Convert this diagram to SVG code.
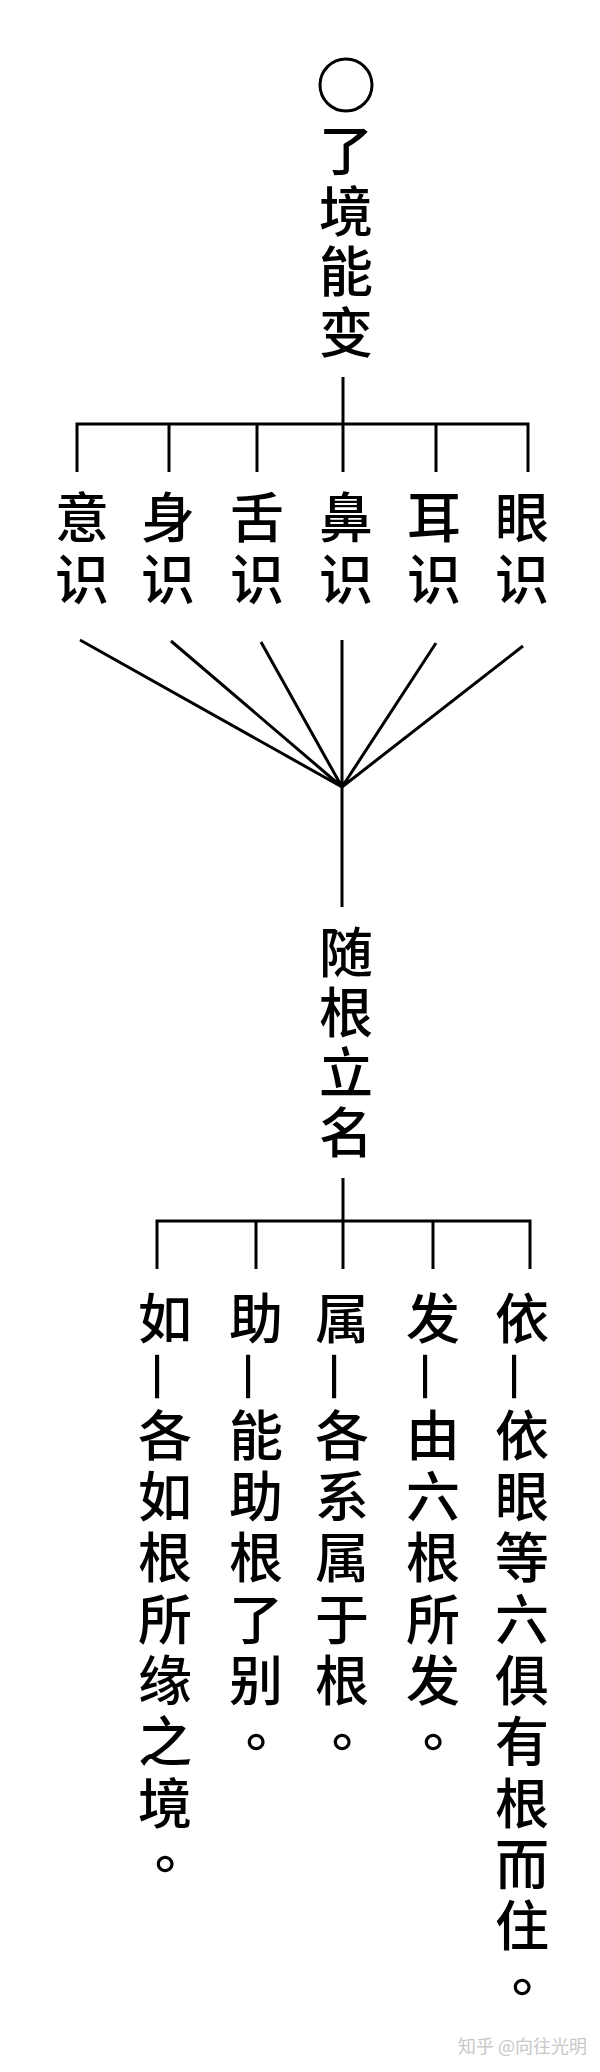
<svg xmlns="http://www.w3.org/2000/svg" width="600" height="2072" viewBox="0 0 600 2072">
<style>
.v { font-family: "Noto Sans CJK SC", "Noto Sans CJK TC", sans-serif; font-size: 54px; font-weight: 500; fill: #000; writing-mode: vertical-rl; }
.p { font-family: "Noto Sans CJK TC", "Noto Sans CJK SC", sans-serif; }
.ln { stroke: #000; stroke-width: 3; fill: none; stroke-linecap: butt; stroke-linejoin: miter; }
.wm { font-family: "Noto Sans CJK SC", sans-serif; font-size: 18px; fill: #c8c8c8; }
</style>
<rect width="600" height="2072" fill="#fff"/>
<g id="connectors" class="ln">
  <path d="M343,377 V472"/>
  <path d="M77,472 V424 H528 V472"/>
  <path d="M169,424 V472 M257,424 V472 M436,424 V472"/>
  <path d="M80,640 L342,787 M171,641 L342,787 M261,642 L342,787 M342,640 V787 M436,643 L342,787 M523,646 L342,787"/>
  <path d="M342,787 V907"/>
  <path d="M343,1178 V1269"/>
  <path d="M157,1269 V1221 H530 V1269"/>
  <path d="M256,1221 V1269 M433,1221 V1269"/>
</g>
<g id="root">
  <circle cx="346" cy="85" r="26" fill="none" stroke="#000" stroke-width="3"/>
  <text class="v" x="346" y="123.5" letter-spacing="6.5">了境能变</text>
</g>
<g id="yi-shi"><text class="v" x="82" y="490" letter-spacing="8">意识</text></g>
<g id="shen-shi"><text class="v" x="168" y="490" letter-spacing="8">身识</text></g>
<g id="she-shi"><text class="v" x="257" y="490" letter-spacing="8">舌识</text></g>
<g id="bi-shi"><text class="v" x="346" y="490" letter-spacing="8">鼻识</text></g>
<g id="er-shi"><text class="v" x="434" y="490" letter-spacing="8">耳识</text></g>
<g id="yan-shi"><text class="v" x="522" y="490" letter-spacing="8">眼识</text></g>
<g id="sui-gen"><text class="v" x="346" y="925" letter-spacing="6">随根立名</text></g>
<g id="ru"><text class="v" x="165" y="1291" letter-spacing="7.3">如—各如根所缘之境<tspan class="p">。</tspan></text></g>
<g id="zhu"><text class="v" x="256" y="1291" letter-spacing="7.3">助—能助根了别<tspan class="p">。</tspan></text></g>
<g id="shu"><text class="v" x="342" y="1291" letter-spacing="7.3">属—各系属于根<tspan class="p">。</tspan></text></g>
<g id="fa"><text class="v" x="433" y="1291" letter-spacing="7.3">发—由六根所发<tspan class="p">。</tspan></text></g>
<g id="yi"><text class="v" x="522" y="1291" letter-spacing="7.3">依—依眼等六俱有根而住<tspan class="p">。</tspan></text></g>
<text class="wm" x="458" y="2053">知乎 @向往光明</text>
</svg>
